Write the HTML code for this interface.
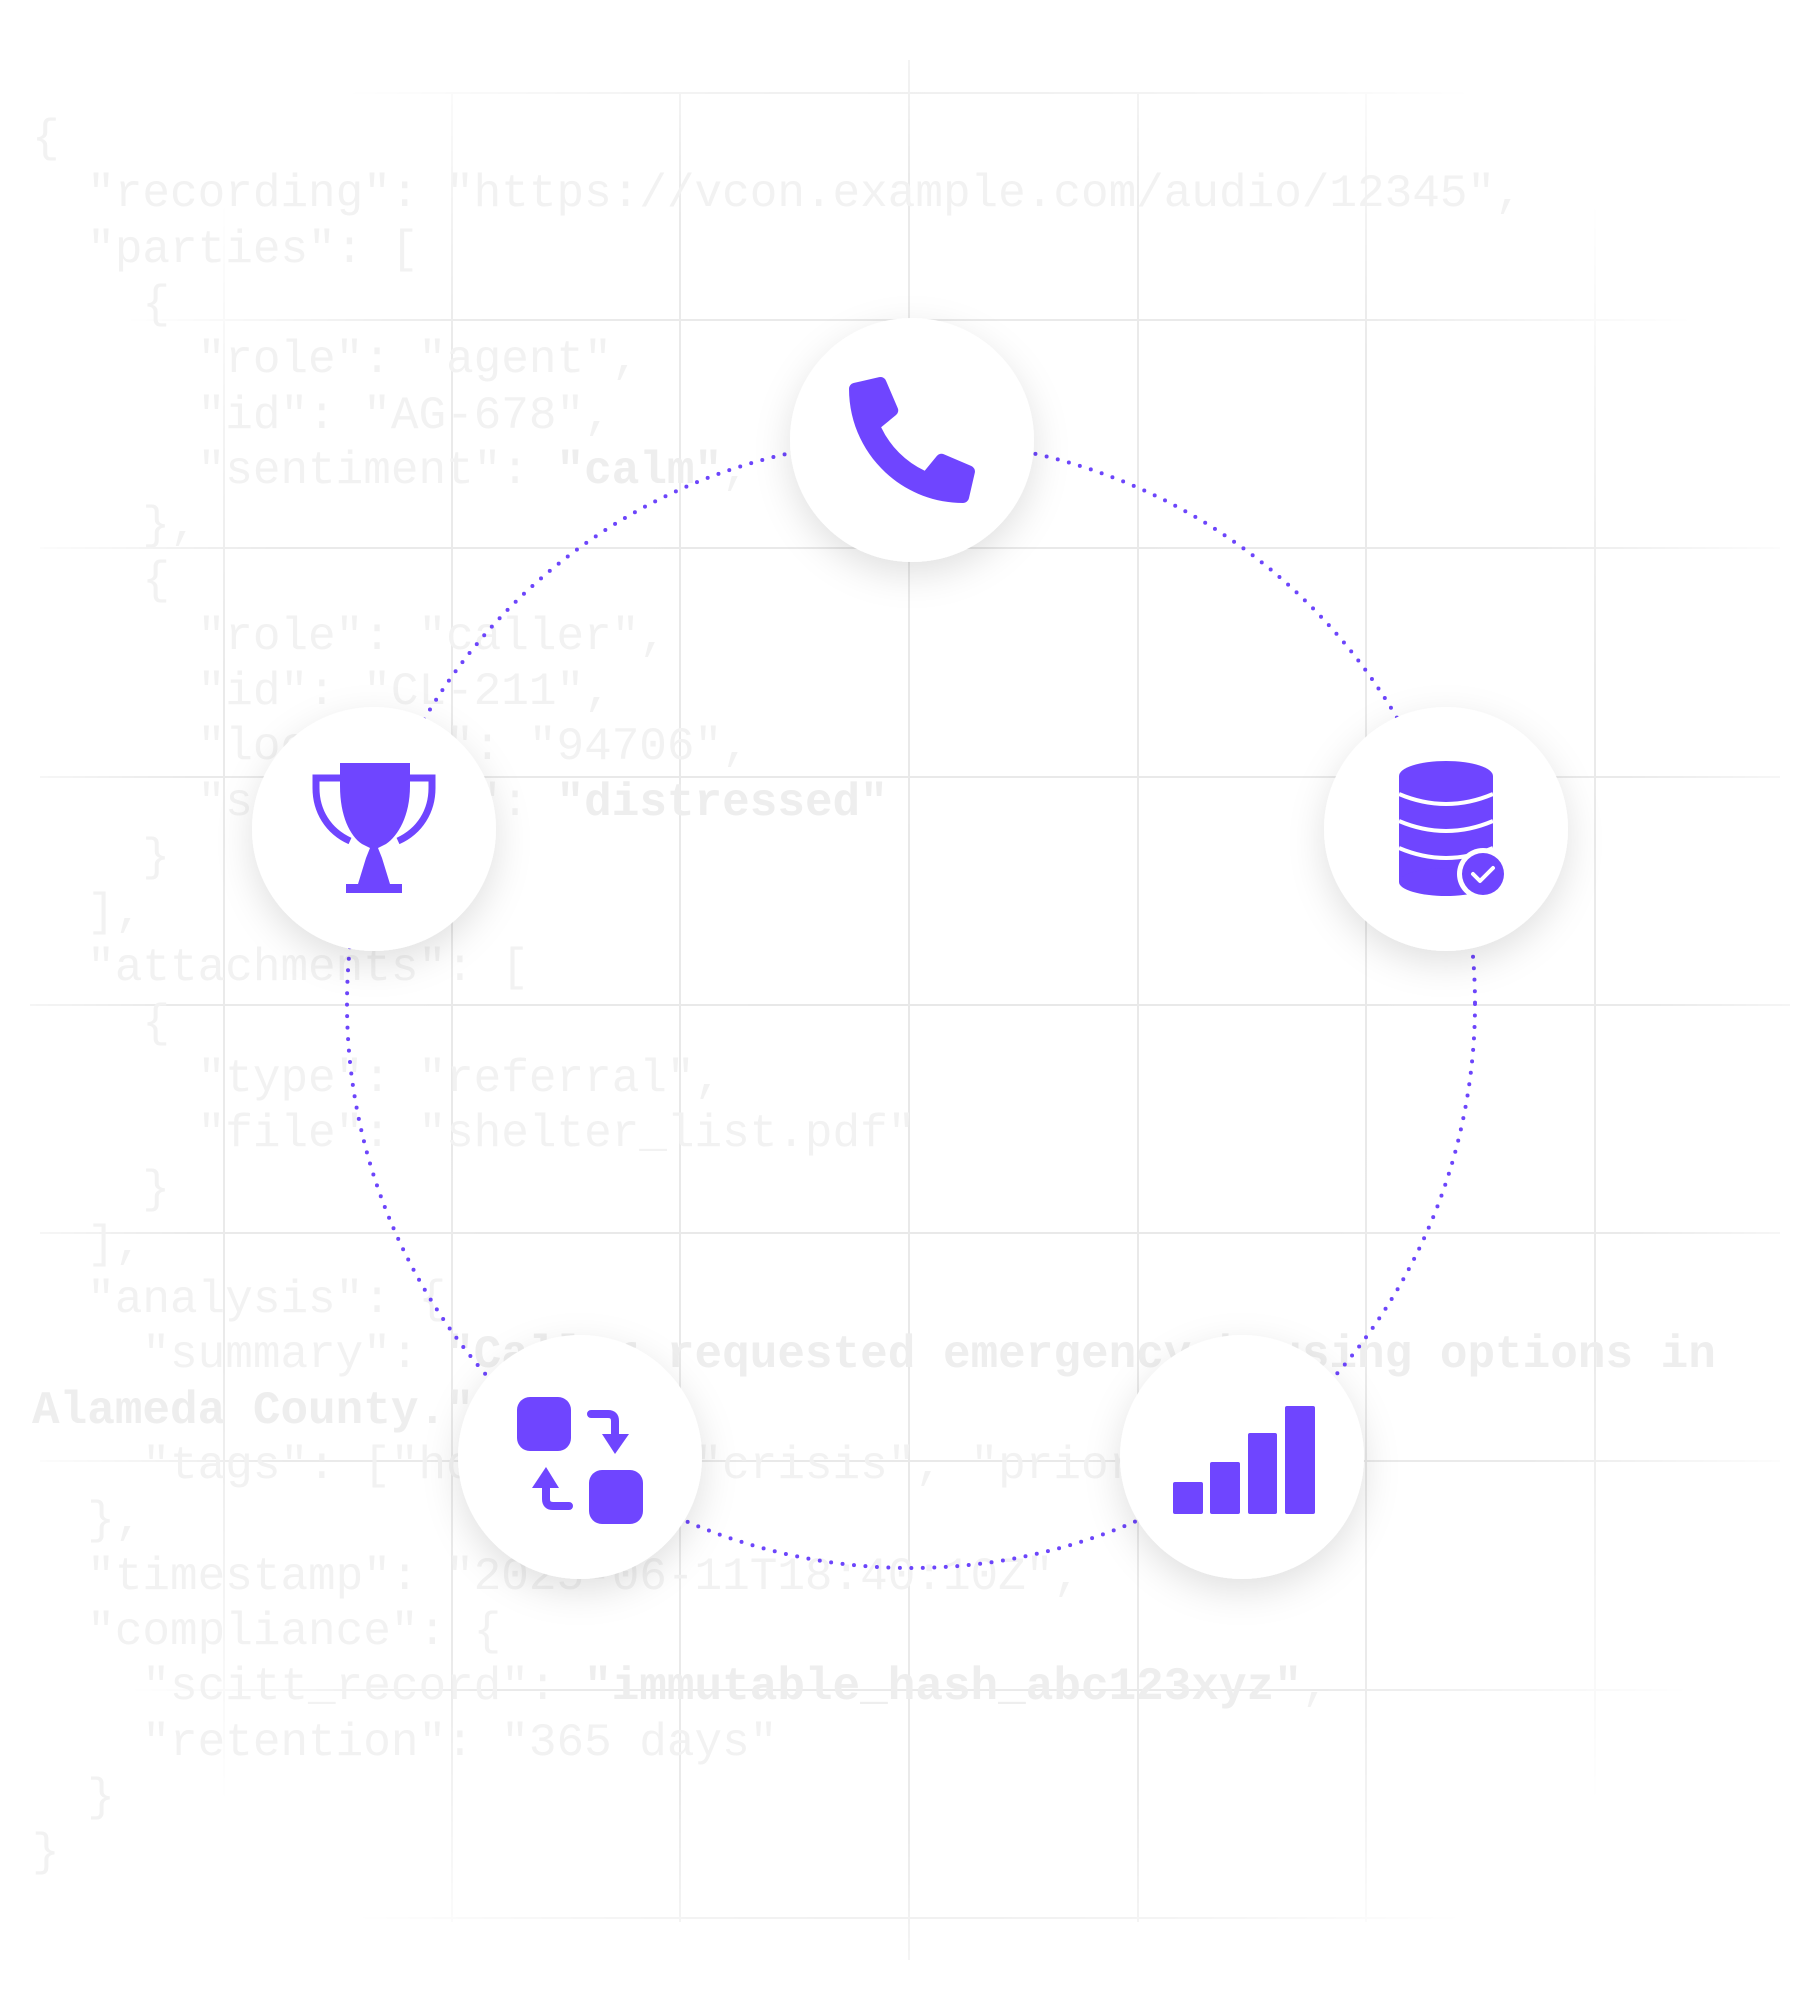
<!DOCTYPE html>
<html><head><meta charset="utf-8"><style>
html,body{margin:0;padding:0;background:#fff;}
svg{display:block;}
text{white-space:pre;}
</style></head><body>
<svg width="1818" height="2004" viewBox="0 0 1818 2004" xmlns="http://www.w3.org/2000/svg">
<defs>
<radialGradient id="fade" cx="50%" cy="50%" r="55%">
<stop offset="0" stop-color="#fff" stop-opacity="1"/>
<stop offset="0.75" stop-color="#fff" stop-opacity="0.9"/>
<stop offset="1" stop-color="#fff" stop-opacity="0"/>
</radialGradient>
<mask id="m"><rect x="0" y="0" width="1818" height="2004" fill="url(#fade)"/></mask>
<filter id="sh" x="-50%" y="-50%" width="200%" height="200%">
<feDropShadow dx="0" dy="12" stdDeviation="18" flood-color="#000" flood-opacity="0.12"/>
</filter>
</defs>
<rect width="1818" height="2004" fill="#fff"/>
<g stroke="#e8e8e8" stroke-width="2" mask="url(#m)">
<line x1="224" y1="94" x2="224" y2="1922"/><line x1="452" y1="94" x2="452" y2="1922"/>
<line x1="680" y1="94" x2="680" y2="1922"/><line x1="909" y1="60" x2="909" y2="1960"/>
<line x1="1138" y1="94" x2="1138" y2="1922"/><line x1="1366" y1="94" x2="1366" y2="1922"/>
<line x1="1595" y1="94" x2="1595" y2="1922"/>
<line x1="60" y1="93" x2="1760" y2="93"/><line x1="60" y1="320" x2="1760" y2="320"/>
<line x1="40" y1="548" x2="1780" y2="548"/><line x1="40" y1="777" x2="1780" y2="777"/>
<line x1="30" y1="1005" x2="1790" y2="1005"/><line x1="40" y1="1233" x2="1780" y2="1233"/>
<line x1="40" y1="1461" x2="1780" y2="1461"/><line x1="60" y1="1690" x2="1760" y2="1690"/>
<line x1="60" y1="1918" x2="1760" y2="1918"/>
</g>
<g font-family="Liberation Mono, monospace" font-size="46" fill="#f2f2f2">
<text x="32" y="151">{</text>
<text x="32" y="206">  "recording": "https://vcon.example.com/audio/12345",</text>
<text x="32" y="262">  "parties": [</text>
<text x="32" y="317">    {</text>
<text x="32" y="372">      "role": "agent",</text>
<text x="32" y="428">      "id": "AG-678",</text>
<text x="32" y="483">      "sentiment": <tspan font-weight="bold" fill="#eeeeee">"calm"</tspan>,</text>
<text x="32" y="538">    },</text>
<text x="32" y="593">    {</text>
<text x="32" y="649">      "role": "caller",</text>
<text x="32" y="704">      "id": "CL-211",</text>
<text x="32" y="759">      "location": "94706",</text>
<text x="32" y="815">      "sentiment": <tspan font-weight="bold" fill="#eeeeee">"distressed"</tspan></text>
<text x="32" y="870">    }</text>
<text x="32" y="925">  ],</text>
<text x="32" y="980">  "attachments": [</text>
<text x="32" y="1036">    {</text>
<text x="32" y="1091">      "type": "referral",</text>
<text x="32" y="1146">      "file": "shelter_list.pdf"</text>
<text x="32" y="1202">    }</text>
<text x="32" y="1257">  ],</text>
<text x="32" y="1312">  "analysis": {</text>
<text x="32" y="1367">    "summary": <tspan font-weight="bold" fill="#eeeeee">"Caller requested emergency housing options in</tspan></text>
<text x="32" y="1423" font-weight="bold" fill="#eeeeee">Alameda County."</text>
<text x="32" y="1478">    "tags": ["housing", "crisis", "priority"]</text>
<text x="32" y="1533">  },</text>
<text x="32" y="1589">  "timestamp": "2025-06-11T18:40:10Z",</text>
<text x="32" y="1644">  "compliance": {</text>
<text x="32" y="1699">    "scitt_record": <tspan font-weight="bold" fill="#eeeeee">"immutable_hash_abc123xyz"</tspan>,</text>
<text x="32" y="1755">    "retention": "365 days"</text>
<text x="32" y="1810">  }</text>
<text x="32" y="1865">}</text>
</g>
<circle cx="911" cy="1004" r="564" fill="none" stroke="#6c45fb" stroke-width="4" stroke-linecap="round" stroke-dasharray="0 11.5"/>
<g fill="#fff" filter="url(#sh)">
<circle cx="912" cy="440" r="122"/>
<circle cx="1446" cy="829" r="122"/>
<circle cx="1242" cy="1457" r="122"/>
<circle cx="580" cy="1457" r="122"/>
<circle cx="374" cy="829" r="122"/>
</g>
<g fill="#6f45ff" transform="translate(-2,-4)">
<!-- phone -->
<g transform="translate(851,381) scale(0.246)">
<path d="M497.39 361.8l-112-48a24 24 0 0 0-28 6.9l-49.6 60.6A370.66 370.66 0 0 1 130.6 204.11l60.6-49.6a23.94 23.94 0 0 0 6.9-28l-48-112A24.16 24.16 0 0 0 122.6.61l-104 24A24 24 0 0 0 0 48c0 256.5 207.9 464 464 464a24 24 0 0 0 23.4-18.6l24-104a24.29 24.29 0 0 0-14.01-27.6z"/>
</g>
<!-- trophy -->
<path d="M342 767 H412 V790 C412 820 400 840 388 848 L380 852 L384 862 L392 888 H404 V897 H348 V888 H360 L368 862 L372 852 L364 848 C352 840 342 820 342 790 Z"/>
<path d="M342 782 H318 V792 C318 815 330 835 352 845" fill="none" stroke="#6f45ff" stroke-width="7"/>
<path d="M410 782 H434 V792 C434 815 422 835 400 845" fill="none" stroke="#6f45ff" stroke-width="7"/>
<!-- database -->
<ellipse cx="1448" cy="780" rx="47" ry="15"/>
<rect x="1401" y="780" width="94" height="106"/>
<ellipse cx="1448" cy="886" rx="47" ry="14"/>
<g fill="none" stroke="#fff" stroke-width="4">
<path d="M1401 798 Q1448 818 1495 798"/>
<path d="M1401 825 Q1448 845 1495 825"/>
<path d="M1401 852 Q1448 872 1495 852"/>
</g>
<circle cx="1485" cy="878" r="26" fill="#fff"/>
<circle cx="1485" cy="878" r="21"/>
<path d="M1475 878 L1482 885 L1495 872" fill="none" stroke="#fff" stroke-width="4" stroke-linecap="round" stroke-linejoin="round"/>
<!-- chart -->
<rect x="1175" y="1486" width="30" height="32" rx="2"/>
<rect x="1212" y="1466" width="30" height="52" rx="2"/>
<rect x="1250" y="1437" width="29" height="81" rx="2"/>
<rect x="1287" y="1410" width="30" height="108" rx="2"/>
<!-- swap -->
<rect x="519" y="1401" width="54" height="54" rx="13"/>
<rect x="591" y="1474" width="54" height="54" rx="13"/>
<path d="M593 1418 H610 Q617 1418 617 1425 V1440" fill="none" stroke="#6f45ff" stroke-width="8" stroke-linecap="round"/>
<path d="M604 1438 H631 L617 1458 Z"/>
<path d="M571 1510 H555 Q548 1510 548 1503 V1490" fill="none" stroke="#6f45ff" stroke-width="8" stroke-linecap="round"/>
<path d="M534 1492 H561 L548 1471 Z"/>
</g>
</svg>
</body></html>
